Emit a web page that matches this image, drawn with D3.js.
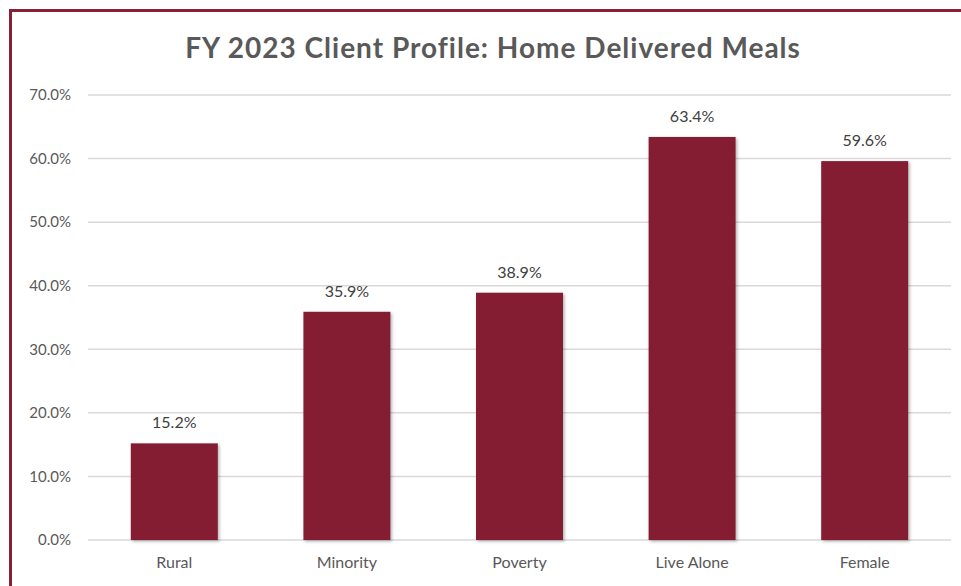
<!DOCTYPE html>
<html>
<head>
<meta charset="utf-8">
<script src="https://cdn.jsdelivr.net/npm/d3@7"></script>
<style>
  body { margin: 0; background: #fff; }
  text { font-family: Lato, "Open Sans", sans-serif; }
</style>
</head>
<body>
<div id="chart"></div>
<script>
// chart data
let categories = ["Rural", "Minority", "Poverty", "Live Alone", "Female"];
let values = [15.2, 35.9, 38.9, 63.4, 59.6];
let yTicks = [0, 10, 20, 30, 40, 50, 60, 70];

let svgWidth = 961;
let svgHeight = 586;
let margin = { top: 95, right: 10, bottom: 46, left: 88 };
let chartWidth = svgWidth - margin.left - margin.right;
let chartHeight = svgHeight - margin.top - margin.bottom;

let svg = d3.select("#chart")
            .append("svg")
            .attr("width", svgWidth)
            .attr("height", svgHeight);

// frame
svg.append("rect")
   .attr("x", 10.5)
   .attr("y", 10.5)
   .attr("width", svgWidth + 20)
   .attr("height", svgHeight + 20)
   .attr("fill", "none")
   .attr("stroke", "#8a1f3a")
   .attr("stroke-width", 3);

let defs = svg.append("defs");
let shadow = defs.append("filter").attr("id", "shadow")
    .attr("x", "-10%").attr("y", "-10%").attr("width", "130%").attr("height", "130%");
shadow.append("feDropShadow")
    .attr("dx", 1.5).attr("dy", 1.5).attr("stdDeviation", 1.5)
    .attr("flood-color", "#000").attr("flood-opacity", 0.3);

// title
svg.append("text")
   .attr("x", 493)
   .attr("y", 58)
   .attr("text-anchor", "middle")
   .attr("font-weight", "bold")
   .style("font-size", "28px")
   .style("letter-spacing", "1px")
   .attr("fill", "#595959")
   .text("FY 2023 Client Profile: Home Delivered Meals");

let chartGroup = svg.append("g")
                    .attr("transform", `translate(${margin.left}, ${margin.top})`);

let xScale = d3.scaleBand()
    .domain(categories)
    .range([0, chartWidth])
    .paddingInner(0.496)
    .paddingOuter(0.248);
let yScale = d3.scaleLinear()
    .domain([0, 70])
    .range([chartHeight, 0]);

// gridlines
chartGroup.append("g")
    .selectAll("line")
    .data(yTicks)
    .enter()
    .append("line")
    .attr("x1", 0)
    .attr("x2", chartWidth)
    .attr("y1", d => yScale(d))
    .attr("y2", d => yScale(d))
    .attr("stroke", "#d9d9d9")
    .attr("stroke-width", 1.5);

// y axis
let leftAxis = d3.axisLeft(yScale)
    .tickValues(yTicks)
    .tickSize(0)
    .tickPadding(17)
    .tickFormat(d => d.toFixed(1) + "%");
let yAxis = chartGroup.append("g").call(leftAxis);
yAxis.select(".domain").remove();
yAxis.selectAll("text")
    .style("font-size", "15px")
    .attr("fill", "#595959");

// x axis
let bottomAxis = d3.axisBottom(xScale).tickSize(0).tickPadding(17);
let xAxis = chartGroup.append("g")
    .attr("transform", `translate(0, ${chartHeight})`)
    .call(bottomAxis);
xAxis.select(".domain").remove();
xAxis.selectAll("text")
    .style("font-size", "16px")
    .attr("fill", "#595959");

// bars
chartGroup.selectAll("rect.bar")
    .data(values)
    .enter()
    .append("rect")
    .attr("class", "bar")
    .attr("x", (d, i) => xScale(categories[i]))
    .attr("y", d => yScale(d))
    .attr("width", xScale.bandwidth())
    .attr("height", d => chartHeight - yScale(d))
    .attr("fill", "#841c32")
    .attr("filter", "url(#shadow)");

// data labels
chartGroup.selectAll("text.label")
    .data(values)
    .enter()
    .append("text")
    .attr("class", "label")
    .attr("x", (d, i) => xScale(categories[i]) + xScale.bandwidth() / 2)
    .attr("y", d => yScale(d) - 15)
    .attr("text-anchor", "middle")
    .style("font-size", "16px")
    .attr("fill", "#404040")
    .text(d => d.toFixed(1) + "%");
</script>
</body>
</html>
